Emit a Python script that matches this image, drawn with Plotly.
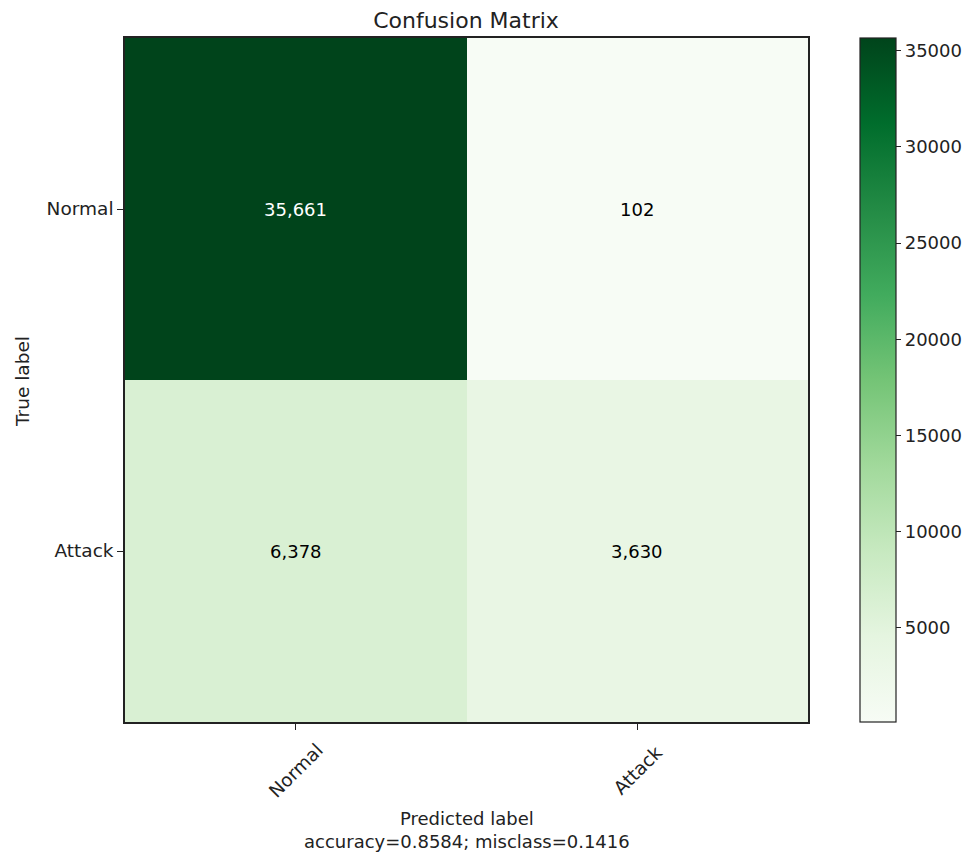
import plotly.graph_objects as go

# Confusion matrix data
labels = ["Normal", "Attack"]
counts = [[35661, 102],
          [6378, 3630]]
accuracy = 0.8584
misclass = 0.1416
cbar_ticks = [5000, 10000, 15000, 20000, 25000, 30000, 35000]

greens = ["rgb(247,252,245)", "rgb(229,245,224)", "rgb(199,233,192)",
          "rgb(161,217,155)", "rgb(116,196,118)", "rgb(65,171,93)",
          "rgb(35,139,69)", "rgb(0,109,44)", "rgb(0,68,27)"]
scale = [[i / (len(greens) - 1), c] for i, c in enumerate(greens)]

flat = [v for row in counts for v in row]
zmin, zmax = min(flat), max(flat)
thresh = zmax / 2

FONT = "DejaVu Sans"
INK = "#222"
LBL = 18.5

fig = go.Figure(go.Heatmap(
    z=counts, x=labels, y=labels,
    colorscale=scale, zmin=zmin, zmax=zmax,
    colorbar=dict(
        x=1.076, xanchor="left", y=0.5, yanchor="middle",
        len=1.0, lenmode="fraction", thickness=36, thicknessmode="pixels",
        outlinewidth=1.2, outlinecolor=INK, xpad=0, ypad=0,
        tickvals=cbar_ticks, tickformat="d",
        ticks="outside", ticklen=5, tickcolor=INK,
        tickfont=dict(family=FONT, size=18, color=INK),
    ),
    hoverinfo="skip",
))

annotations = []
for i, row in enumerate(counts):
    for j, v in enumerate(row):
        annotations.append(dict(
            x=labels[j], y=labels[i], xref="x", yref="y",
            text=f"{v:,}", showarrow=False,
            font=dict(family=FONT, size=18,
                      color="white" if v > thresh else "black"),
        ))

# Rotated x tick labels, centred under each tick
for lab in labels:
    annotations.append(dict(
        x=lab, y=0, xref="x", yref="paper", yanchor="middle",
        xanchor="center", yshift=-48, text=lab, textangle=-45,
        showarrow=False, font=dict(family=FONT, size=LBL, color=INK),
    ))

# x-axis label with summary line
annotations.append(dict(
    x=0.5, y=0, xref="paper", yref="paper", xanchor="center", yanchor="top",
    yshift=-84, showarrow=False,
    text="Predicted label<br>accuracy=%.4f; misclass=%.4f" % (accuracy, misclass),
    font=dict(family=FONT, size=18, color=INK),
))

# y-axis label
annotations.append(dict(
    x=(22 - 125) / 683, y=(722 - 382) / 684, xref="paper", yref="paper",
    xanchor="center", yanchor="middle", textangle=-90, showarrow=False,
    text="True label", font=dict(family=FONT, size=LBL, color=INK),
))

fig.update_layout(
    width=972, height=852,
    margin=dict(l=125, r=164, t=38, b=130, autoexpand=False),
    paper_bgcolor="white", plot_bgcolor="white",
    title=dict(text="Confusion Matrix", x=466 / 972, xanchor="center",
               y=1 - 20 / 852, yanchor="middle",
               font=dict(family=FONT, size=22, color=INK)),
    xaxis=dict(
        showticklabels=False, ticks="outside", ticklen=6, tickcolor=INK,
        showgrid=False, zeroline=False, showline=True, linecolor=INK,
        linewidth=1.5, mirror=True,
    ),
    yaxis=dict(
        autorange="reversed", ticks="outside", ticklen=6, tickcolor=INK,
        showgrid=False, zeroline=False, showline=True, linecolor=INK,
        linewidth=1.5, mirror=True,
        tickfont=dict(family=FONT, size=LBL, color=INK),
    ),
    annotations=annotations,
)

fig.write_html("out.html")
